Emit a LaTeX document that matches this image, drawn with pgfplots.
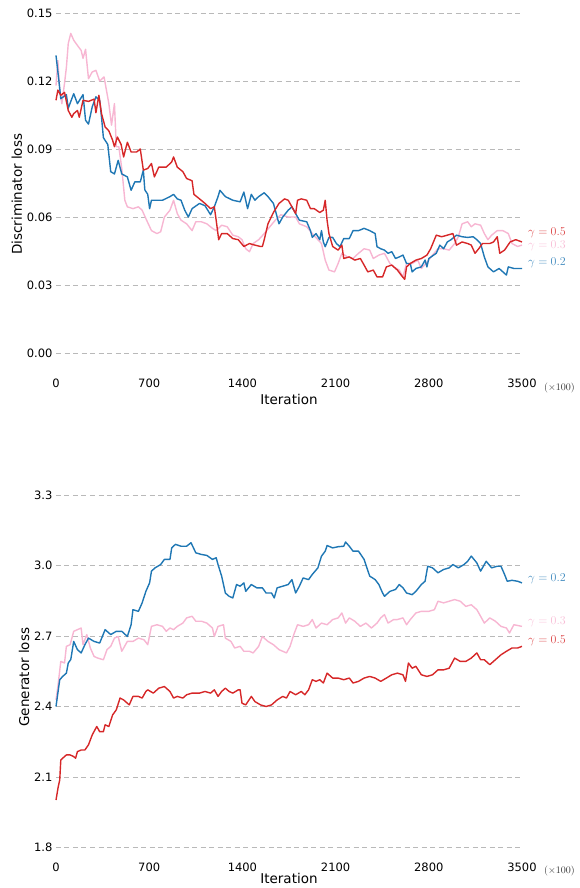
\documentclass[border=0pt]{standalone}
\usepackage{pgfplots}
\pgfplotsset{compat=1.18}
\usepackage{fontspec}
\setmainfont{DejaVu Sans}
\definecolor{cblue}{RGB}{31,119,180}
\definecolor{cred}{RGB}{214,39,40}
\definecolor{cpink}{RGB}{247,182,210}
\pgfplotsset{
  lossax/.style={
    scale only axis, width=466pt, clip=false,
    xmin=0, xmax=3500, xtick={0,700,1400,2100,2800,3500},
    axis line style={draw=none}, tick style={draw=none}, major tick length=0pt,
    ymajorgrids, grid style={gray!55, line width=0.7pt, dash pattern=on 5pt off 3.5pt},
    /pgf/number format/assume math mode=true,
    xticklabel style={font=\fontsize{11.5}{13}\selectfont, /pgf/number format/1000 sep={}},
    yticklabel style={font=\fontsize{11.5}{13}\selectfont},
    label style={font=\fontsize{13.5}{16}\selectfont},
    xlabel={Iteration},
    xlabel style={yshift=1pt},
    ylabel style={yshift=-2pt},
    every axis plot/.append style={line width=1.4pt, line join=round},
  }
}
\tikzset{glab/.style={anchor=west, font=\fontsize{12.5}{13}\selectfont, inner sep=0pt, xshift=6pt}}
\begin{document}
\begin{tikzpicture}
\path[use as bounding box] (0,0) rectangle (579pt,-888pt);
% ---------------- Discriminator ----------------
\begin{axis}[lossax, at={(56pt,-13pt)}, anchor=north west, height=362.7pt,
  ymin=-0.01, ymax=0.15, ytick={0,0.03,0.06,0.09,0.12,0.15},
  yticklabel style={/pgf/number format/.cd, fixed, fixed zerofill, precision=2},
  ylabel={Discriminator loss}]
\addplot[cpink] coordinates {(0,0.118)(14,0.129)(28,0.116)(44,0.110)(64,0.119)(78,0.126)(92,0.1365)(111,0.141)(133,0.138)(161,0.1357)(189,0.1335)(203,0.130)(222,0.134)(244,0.121)(272,0.124)(300,0.1247)(328,0.120)(361,0.1218)(397,0.110)(417,0.1005)(439,0.110)(453,0.091)(472,0.091)(494,0.0814)(517,0.0674)(536,0.0645)(578,0.0637)(619,0.0645)(647,0.063)(675,0.0593)(717,0.054)(758,0.0527)(786,0.0535)(814,0.060)(856,0.063)(883,0.0674)(911,0.0615)(939,0.0586)(981,0.057)(1022,0.054)(1050,0.0579)(1092,0.0579)(1133,0.057)(1175,0.055)(1203,0.054)(1244,0.0564)(1286,0.0557)(1328,0.052)(1369,0.0513)(1397,0.050)(1425,0.046)(1453,0.0447)(1481,0.0483)(1522,0.050)(1564,0.0527)(1606,0.0557)(1647,0.0586)(1689,0.061)(1744,0.060)(1800,0.060)(1828,0.057)(1883,0.0557)(1925,0.0527)(1967,0.050)(1994,0.0483)(2022,0.041)(2050,0.0366)(2092,0.0358)(2119,0.0395)(2147,0.044)(2189,0.0424)(2231,0.0417)(2272,0.044)(2314,0.046)(2356,0.0454)(2383,0.0417)(2425,0.0432)(2467,0.044)(2508,0.0395)(2536,0.038)(2578,0.0366)(2606,0.0336)(2633,0.0395)(2675,0.0395)(2717,0.041)(2744,0.0373)(2786,0.040)(2828,0.0432)(2869,0.046)(2911,0.046)(2953,0.0454)(2994,0.0483)(3022,0.0513)(3050,0.057)(3092,0.0579)(3119,0.0557)(3147,0.057)(3189,0.0564)(3217,0.0527)(3244,0.050)(3272,0.052)(3314,0.054)(3356,0.054)(3397,0.0527)(3425,0.0483)(3467,0.047)(3500,0.0476)};
\addplot[cblue] coordinates {(0,0.1313)(22,0.120)(36,0.1122)(78,0.114)(92,0.108)(133,0.1144)(161,0.110)(203,0.114)(222,0.1027)(244,0.101)(272,0.1086)(300,0.113)(328,0.1115)(342,0.104)(356,0.095)(389,0.092)(411,0.080)(439,0.079)(467,0.085)(494,0.079)(536,0.0777)(564,0.0718)(592,0.0755)(633,0.0755)(656,0.0807)(667,0.072)(689,0.070)(703,0.0637)(717,0.0674)(800,0.0674)(856,0.069)(883,0.070)(911,0.068)(939,0.0674)(967,0.063)(994,0.060)(1022,0.0637)(1078,0.066)(1119,0.065)(1161,0.061)(1189,0.0645)(1217,0.069)(1231,0.0718)(1272,0.069)(1328,0.0674)(1383,0.0667)(1411,0.071)(1439,0.0637)(1467,0.070)(1494,0.0674)(1522,0.069)(1564,0.0707)(1592,0.069)(1633,0.066)(1675,0.057)(1703,0.060)(1744,0.063)(1772,0.0645)(1800,0.0615)(1828,0.0586)(1883,0.0579)(1911,0.054)(1925,0.051)(1953,0.0527)(1981,0.050)(1994,0.054)(2008,0.049)(2022,0.0469)(2050,0.051)(2078,0.051)(2106,0.0483)(2133,0.0469)(2161,0.0505)(2203,0.0505)(2231,0.054)(2272,0.054)(2314,0.055)(2356,0.054)(2397,0.0527)(2411,0.0469)(2439,0.046)(2467,0.0454)(2494,0.044)(2522,0.0447)(2550,0.0417)(2578,0.0424)(2606,0.0432)(2633,0.0395)(2661,0.0395)(2675,0.0358)(2703,0.0373)(2744,0.038)(2772,0.041)(2786,0.038)(2800,0.0417)(2856,0.044)(2883,0.0476)(2911,0.046)(2939,0.049)(2967,0.050)(3008,0.052)(3050,0.0513)(3092,0.051)(3133,0.0513)(3161,0.050)(3189,0.0483)(3217,0.0424)(3244,0.038)(3286,0.0358)(3328,0.0373)(3383,0.0344)(3397,0.038)(3439,0.0373)(3500,0.0373)};
\addplot[cred] coordinates {(0,0.1115)(14,0.116)(36,0.1137)(64,0.115)(92,0.107)(119,0.104)(133,0.1056)(161,0.107)(175,0.104)(203,0.1115)(244,0.111)(286,0.112)(300,0.106)(322,0.1137)(342,0.1056)(369,0.0997)(397,0.098)(425,0.0939)(439,0.091)(461,0.0953)(489,0.092)(508,0.0865)(536,0.093)(564,0.0887)(606,0.0887)(633,0.090)(656,0.0807)(689,0.0814)(717,0.0836)(739,0.0777)(772,0.082)(828,0.082)(869,0.0843)(883,0.0865)(911,0.082)(953,0.080)(981,0.077)(1022,0.076)(1036,0.070)(1078,0.068)(1119,0.066)(1161,0.0637)(1189,0.0645)(1203,0.0586)(1222,0.050)(1244,0.0527)(1286,0.0527)(1328,0.0505)(1369,0.050)(1411,0.047)(1453,0.0483)(1494,0.0476)(1536,0.047)(1550,0.047)(1564,0.050)(1592,0.057)(1633,0.062)(1675,0.066)(1717,0.068)(1744,0.0674)(1772,0.0645)(1800,0.0615)(1814,0.0674)(1842,0.068)(1883,0.0674)(1911,0.0637)(1939,0.0637)(1981,0.062)(2008,0.063)(2022,0.0674)(2036,0.0586)(2050,0.0527)(2078,0.047)(2119,0.0454)(2147,0.0476)(2161,0.0417)(2203,0.0424)(2244,0.041)(2286,0.0417)(2314,0.0388)(2342,0.0358)(2383,0.0366)(2411,0.0336)(2453,0.0336)(2481,0.038)(2522,0.0388)(2564,0.0366)(2592,0.0344)(2619,0.0325)(2633,0.038)(2661,0.0395)(2703,0.041)(2744,0.0417)(2786,0.0432)(2814,0.046)(2856,0.052)(2897,0.0513)(2939,0.052)(2981,0.0527)(3008,0.0476)(3050,0.049)(3092,0.0483)(3119,0.0476)(3147,0.044)(3175,0.046)(3203,0.0483)(3258,0.0483)(3286,0.049)(3314,0.0513)(3333,0.044)(3369,0.0454)(3411,0.049)(3453,0.050)(3500,0.049)};
\node[glab, text=cred!85] at (axis cs:3500,0.0529) {$\gamma=0.5$};
\node[glab, text=cpink!90] at (axis cs:3500,0.0474) {$\gamma=0.3$};
\node[glab, text=cblue!85] at (axis cs:3500,0.0399) {$\gamma=0.2$};
\node[anchor=west, text=black!80, font=\fontsize{10}{11}\selectfont, inner sep=0pt] at (rel axis cs:1,0) [xshift=22pt, yshift=-12pt] {$(\times 100)$};
\end{axis}
% ---------------- Generator ----------------
\begin{axis}[lossax, at={(56pt,-495pt)}, anchor=north west, height=364.25pt,
  ymin=1.75, ymax=3.3, ytick={1.8,2.1,2.4,2.7,3.0,3.3},
  yticklabel style={/pgf/number format/.cd, fixed, fixed zerofill, precision=1},
  xlabel style={yshift=4pt},
  ylabel={Generator loss}]
\addplot[cpink] coordinates {(0,2.428)(14,2.485)(36,2.592)(64,2.585)(78,2.656)(106,2.663)(133,2.720)(161,2.727)(189,2.734)(203,2.663)(231,2.706)(258,2.649)(286,2.613)(314,2.606)(356,2.599)(383,2.642)(411,2.656)(439,2.691)(467,2.698)(494,2.635)(536,2.677)(578,2.677)(619,2.691)(661,2.684)(689,2.663)(717,2.741)(758,2.748)(800,2.741)(828,2.720)(856,2.734)(883,2.727)(911,2.741)(953,2.755)(981,2.777)(1022,2.784)(1050,2.763)(1092,2.763)(1133,2.755)(1175,2.734)(1189,2.698)(1217,2.741)(1258,2.748)(1272,2.691)(1314,2.677)(1342,2.649)(1383,2.656)(1411,2.635)(1453,2.635)(1481,2.628)(1522,2.656)(1550,2.698)(1592,2.677)(1633,2.663)(1675,2.642)(1703,2.635)(1731,2.628)(1758,2.656)(1786,2.706)(1814,2.748)(1856,2.741)(1897,2.748)(1925,2.770)(1953,2.734)(1994,2.755)(2036,2.748)(2078,2.770)(2119,2.777)(2147,2.798)(2175,2.755)(2203,2.777)(2244,2.763)(2286,2.741)(2328,2.755)(2369,2.734)(2411,2.755)(2439,2.777)(2467,2.791)(2494,2.755)(2536,2.770)(2564,2.770)(2606,2.777)(2633,2.748)(2661,2.770)(2703,2.798)(2744,2.805)(2800,2.805)(2842,2.812)(2869,2.848)(2911,2.841)(2953,2.848)(2994,2.855)(3036,2.848)(3078,2.826)(3119,2.833)(3161,2.812)(3189,2.784)(3217,2.755)(3258,2.777)(3300,2.763)(3342,2.741)(3383,2.734)(3406,2.713)(3439,2.748)(3500,2.741)};
\addplot[cblue] coordinates {(0,2.400)(14,2.457)(28,2.514)(50,2.528)(78,2.542)(92,2.585)(111,2.600)(133,2.677)(161,2.642)(189,2.628)(217,2.663)(244,2.691)(286,2.677)(328,2.670)(369,2.727)(411,2.706)(453,2.720)(494,2.720)(536,2.698)(564,2.748)(578,2.812)(619,2.805)(647,2.841)(675,2.890)(703,2.926)(717,2.976)(744,2.990)(786,3.004)(814,3.026)(856,3.026)(869,3.075)(897,3.090)(939,3.082)(981,3.082)(1014,3.097)(1050,3.054)(1092,3.047)(1133,3.043)(1175,3.026)(1203,3.033)(1217,3.004)(1244,2.955)(1272,2.883)(1300,2.869)(1328,2.862)(1356,2.919)(1383,2.912)(1411,2.926)(1425,2.890)(1467,2.919)(1508,2.905)(1550,2.905)(1578,2.883)(1619,2.883)(1639,2.862)(1661,2.905)(1703,2.912)(1744,2.919)(1772,2.940)(1800,2.883)(1828,2.912)(1856,2.947)(1897,2.940)(1925,2.962)(1967,2.990)(1994,3.040)(2022,3.061)(2036,3.085)(2078,3.075)(2119,3.080)(2161,3.082)(2175,3.100)(2203,3.082)(2231,3.061)(2272,3.061)(2314,3.026)(2356,2.955)(2397,2.940)(2425,2.919)(2453,2.883)(2467,2.869)(2508,2.890)(2550,2.898)(2578,2.919)(2606,2.905)(2633,2.883)(2675,2.876)(2703,2.890)(2744,2.919)(2772,2.933)(2792,2.997)(2828,2.990)(2869,2.969)(2911,2.983)(2953,2.990)(2981,3.004)(3022,2.990)(3064,3.004)(3092,3.018)(3119,3.040)(3161,3.011)(3189,2.976)(3231,3.018)(3272,2.990)(3314,2.997)(3342,2.997)(3369,2.962)(3389,2.933)(3425,2.937)(3467,2.933)(3500,2.926)};
\addplot[cred] coordinates {(0,2.002)(17,2.059)(28,2.087)(36,2.172)(50,2.180)(78,2.194)(106,2.194)(133,2.187)(147,2.180)(161,2.208)(189,2.215)(217,2.215)(244,2.237)(272,2.279)(306,2.315)(328,2.293)(356,2.293)(369,2.322)(397,2.315)(425,2.364)(453,2.386)(481,2.436)(508,2.428)(550,2.407)(578,2.443)(619,2.443)(647,2.436)(675,2.464)(689,2.471)(731,2.457)(772,2.478)(814,2.485)(856,2.464)(883,2.436)(911,2.443)(953,2.436)(981,2.450)(1022,2.457)(1078,2.457)(1119,2.464)(1161,2.457)(1189,2.471)(1217,2.443)(1244,2.464)(1272,2.478)(1300,2.464)(1328,2.457)(1369,2.471)(1383,2.471)(1397,2.414)(1425,2.407)(1467,2.443)(1494,2.421)(1536,2.407)(1578,2.400)(1619,2.407)(1661,2.428)(1703,2.443)(1731,2.436)(1758,2.464)(1800,2.450)(1842,2.464)(1869,2.450)(1897,2.471)(1925,2.514)(1953,2.507)(1981,2.514)(2008,2.500)(2036,2.542)(2078,2.521)(2119,2.521)(2161,2.514)(2203,2.521)(2231,2.500)(2272,2.507)(2314,2.521)(2356,2.528)(2397,2.521)(2439,2.507)(2481,2.521)(2522,2.535)(2564,2.542)(2606,2.535)(2625,2.507)(2647,2.585)(2675,2.563)(2703,2.571)(2744,2.535)(2786,2.528)(2828,2.535)(2869,2.556)(2911,2.556)(2953,2.563)(2994,2.606)(3036,2.592)(3078,2.592)(3119,2.606)(3161,2.628)(3189,2.599)(3217,2.599)(3258,2.578)(3300,2.599)(3342,2.620)(3383,2.635)(3425,2.649)(3467,2.649)(3500,2.656)};
\node[glab, text=cblue!85] at (axis cs:3500,2.945) {$\gamma=0.2$};
\node[glab, text=cpink!90] at (axis cs:3500,2.762) {$\gamma=0.3$};
\node[glab, text=cred!85] at (axis cs:3500,2.678) {$\gamma=0.5$};
\node[anchor=west, text=black!80, font=\fontsize{10}{11}\selectfont, inner sep=0pt] at (rel axis cs:1,0) [xshift=22pt, yshift=-12pt] {$(\times 100)$};
\end{axis}
\end{tikzpicture}
\end{document}
